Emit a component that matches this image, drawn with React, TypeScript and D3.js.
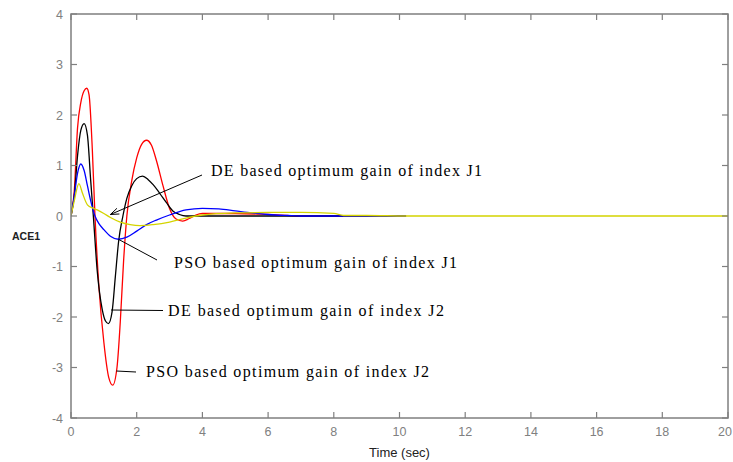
import React from 'react'
import * as d3 from 'd3'

// time (sec) and ACE1 values
const psoJ2T = [0, 0.1, 0.2, 0.3, 0.4, 0.48, 0.55, 0.65, 0.73, 0.85, 1.0, 1.15, 1.27, 1.4, 1.5, 1.6, 1.7, 1.85, 2.0, 2.15, 2.3, 2.45, 2.6, 2.8, 3.0, 3.2, 3.4, 3.6, 3.8, 4.0, 5, 6, 7, 10.2]
const psoJ2V = [0, 0.5, 1.75, 2.25, 2.48, 2.53, 2.4, 1.3, 0, -1.4, -2.5, -3.2, -3.35, -3.0, -2.1, -0.9, 0, 0.7, 1.15, 1.42, 1.5, 1.4, 1.1, 0.6, 0.15, -0.06, -0.1, -0.05, 0.02, 0.05, 0.05, 0.03, 0, 0]

const deJ2T = [0, 0.1, 0.2, 0.3, 0.4, 0.5, 0.6, 0.68, 0.8, 0.95, 1.05, 1.14, 1.25, 1.35, 1.45, 1.58, 1.7, 1.85, 2.0, 2.18, 2.35, 2.5, 2.7, 2.9, 3.1, 3.3, 3.5, 4, 10.2]
const deJ2V = [0, 0.4, 1.2, 1.7, 1.83, 1.6, 0.7, 0, -1.1, -1.85, -2.08, -2.13, -1.9, -1.2, -0.5, 0, 0.35, 0.6, 0.74, 0.79, 0.72, 0.62, 0.45, 0.27, 0.1, 0.03, 0, 0, 0]

const psoJ1T = [0, 0.1, 0.2, 0.3, 0.4, 0.5, 0.6, 0.73, 0.85, 1.0, 1.2, 1.44, 1.7, 2.0, 2.3, 2.6, 3.0, 3.5, 4.0, 4.5, 5, 5.5, 6, 6.6, 7, 10.2]
const psoJ1V = [0, 0.4, 0.85, 1.03, 0.9, 0.6, 0.3, 0, -0.15, -0.27, -0.4, -0.46, -0.42, -0.3, -0.17, -0.08, 0.02, 0.12, 0.15, 0.14, 0.1, 0.06, 0.03, 0.01, 0, 0]

const deJ1T = [0, 0.1, 0.24, 0.35, 0.5, 0.65, 0.8, 1.0, 1.2, 1.5, 1.8, 2.1, 2.5, 3.0, 3.5, 4.0, 5, 6, 7, 8, 8.3, 9, 10.2, 20]
const deJ1V = [0, 0.3, 0.64, 0.45, 0.22, 0.16, 0.12, 0.05, -0.03, -0.12, -0.17, -0.19, -0.17, -0.12, -0.04, 0.02, 0.06, 0.07, 0.07, 0.05, 0.01, 0.01, 0, 0]

const xTicks = [0, 2, 4, 6, 8, 10, 12, 14, 16, 18, 20]
const yTicks = [-4, -3, -2, -1, 0, 1, 2, 3, 4]

const W = 733
const H = 462
const m = { left: 71, right: 5, top: 14, bottom: 44 }
const axisGray = '#7f7f7f'

export default function App() {
  const x = d3.scaleLinear().domain([0, 20]).range([m.left, W - m.right])
  const y = d3.scaleLinear().domain([-4, 4]).range([H - m.bottom, m.top])
  const line = d3.line<[number, number]>()
    .x(d => x(d[0]))
    .y(d => y(d[1]))
    .curve(d3.curveMonotoneX)

  const zip = (t: number[], v: number[]) => t.map((tt, i) => [tt, v[i]] as [number, number])
  const series = [
    { t: psoJ2T, v: psoJ2V, color: '#ff0000' },
    { t: deJ2T, v: deJ2V, color: '#000000' },
    { t: psoJ1T, v: psoJ1V, color: '#0000ff' },
    { t: deJ1T, v: deJ1V, color: '#d4d400' },
  ]

  const x0 = x(0), x1 = x(20), y0 = y(-4), y1 = y(4)
  const tl = 6
  const annFont = { fontFamily: '"Liberation Serif", "Times New Roman", serif', fontSize: 16, fill: '#000', lengthAdjust: 'spacing' }

  // arrow to DE J1 curve
  const ax1 = 202, ay1 = 175, ax2 = x(1.2), ay2 = y(0.03)
  const ang = Math.atan2(ay2 - ay1, ax2 - ax1)
  const ah = 9
  const head = [ang + Math.PI - 0.35, ang + Math.PI + 0.35].map(a => [ax2 + ah * Math.cos(a), ay2 + ah * Math.sin(a)])

  return (
    <svg width={W} height={H} style={{ position: 'absolute', left: 0, top: 0, background: '#fff' }}>
      <rect x={0} y={0} width={W} height={H} fill="#fff" />
      <defs>
        <clipPath id="plotclip">
          <rect x={x0} y={y1} width={x1 - x0} height={y0 - y1} />
        </clipPath>
      </defs>
      <g clipPath="url(#plotclip)">
        {series.map((s, i) => (
          <path key={i} d={line(zip(s.t, s.v)) || ''} fill="none" stroke={s.color} strokeWidth={1.3} />
        ))}
      </g>
      {/* frame */}
      <rect x={x0} y={y1} width={x1 - x0} height={y0 - y1} fill="none" stroke={axisGray} strokeWidth={1.5} />
      {xTicks.map((t, i) => {
        const last = i === xTicks.length - 1
        return (
          <g key={'x' + t}>
            <line x1={x(t)} x2={x(t)} y1={y0} y2={y0 - tl} stroke={axisGray} strokeWidth={1.2} />
            <line x1={x(t)} x2={x(t)} y1={y1} y2={y1 + tl} stroke={axisGray} strokeWidth={1.2} />
            <text x={last ? W - 1 : x(t)} y={y0 + 18} textAnchor={last ? 'end' : 'middle'} fontFamily="Arial, 'Liberation Sans', sans-serif" fontSize={12.5} fill="#808080">{t}</text>
          </g>
        )
      })}
      {yTicks.map(t => (
        <g key={'y' + t}>
          <line x1={x0} x2={x0 + tl} y1={y(t)} y2={y(t)} stroke={axisGray} strokeWidth={1.2} />
          <line x1={x1} x2={x1 - tl} y1={y(t)} y2={y(t)} stroke={axisGray} strokeWidth={1.2} />
          <text x={x0 - 8} y={y(t) + 4.5} textAnchor="end" fontFamily="Arial, 'Liberation Sans', sans-serif" fontSize={12.5} fill="#808080">{t}</text>
        </g>
      ))}
      <text x={(x0 + x1) / 2} y={457} textAnchor="middle" fontFamily="Arial, 'Liberation Sans', sans-serif" fontSize={13} fill="#222">Time (sec)</text>
      <text x={12} y={240} fontFamily="Arial, 'Liberation Sans', sans-serif" fontSize={10.5} fontWeight="bold" fill="#222">ACE1</text>

      {/* annotations */}
      <line x1={ax1} y1={ay1} x2={ax2} y2={ay2} stroke="#000" strokeWidth={1} />
      <polyline points={`${head[0][0]},${head[0][1]} ${ax2},${ay2} ${head[1][0]},${head[1][1]}`} fill="none" stroke="#000" strokeWidth={1} />
      <text x={211} y={176} textLength={271} {...annFont}>DE based optimum gain of index J1</text>

      <line x1={157} y1={260} x2={x(1.44)} y2={y(-0.46)} stroke="#000" strokeWidth={1} />
      <text x={174} y={268} textLength={283} {...annFont}>PSO based optimum gain of index J1</text>

      <line x1={x(1.22)} y1={310} x2={163} y2={310.5} stroke="#000" strokeWidth={1} />
      <text x={168} y={316} textLength={276} {...annFont}>DE based optimum gain of index J2</text>

      <line x1={x(1.38)} y1={371} x2={136} y2={372} stroke="#000" strokeWidth={1} />
      <text x={146} y={377} textLength={283} {...annFont}>PSO based optimum gain of index J2</text>
    </svg>
  )
}
